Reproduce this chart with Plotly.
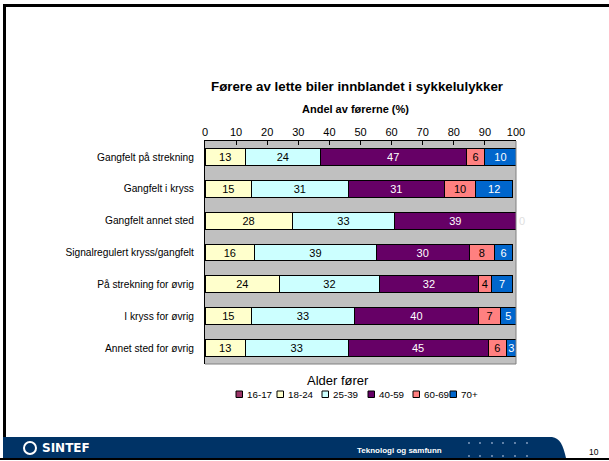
import plotly.graph_objects as go

# categories (top to bottom) and age groups
categories = ['Gangfelt på strekning', 'Gangfelt i kryss', 'Gangfelt annet sted',
              'Signalregulert kryss/gangfelt', 'På strekning for øvrig',
              'I kryss for øvrig', 'Annet sted for øvrig']
age_groups = ['16-17', '18-24', '25-39', '40-59', '60-69', '70+']

# share of drivers (%) per age group
v_16_17 = [0, 0, 0, 0, 0, 0, 0]
v_18_24 = [13, 15, 28, 16, 24, 15, 13]
v_25_39 = [24, 31, 33, 39, 32, 33, 33]
v_40_59 = [47, 31, 39, 30, 32, 40, 45]
v_60_69 = [6, 10, 0, 8, 4, 7, 6]
v_70p = [10, 12, 0, 6, 7, 5, 3]

x_ticks = [0, 10, 20, 30, 40, 50, 60, 70, 80, 90, 100]

series = [v_16_17, v_18_24, v_25_39, v_40_59, v_60_69, v_70p]
colors = ['#993366', '#FFFFCC', '#CCFFFF', '#660066', '#FF8080', '#0066CC']
txt_colors = ['white', 'black', 'black', 'white', 'black', 'white']

W, H = 609, 461
L, R, T, B = 205, 516, 141, 364  # plot area in pixels


def px(x):
    return (x - L) / (R - L)


def py(y):
    return (B - y) / (B - T)


fig = go.Figure()
for i, name in enumerate(age_groups):
    vals = series[i]
    last = i == len(age_groups) - 1
    texts = []
    pos = []
    for v in vals:
        if name == '16-17':
            texts.append('')
            pos.append('none')
        elif v == 0 and last:
            texts.append('0')
            pos.append('outside')
        elif v == 0:
            texts.append('')
            pos.append('none')
        else:
            texts.append(str(v))
            pos.append('inside')
    fig.add_trace(go.Bar(
        name=name, y=categories, x=vals, orientation='h',
        marker=dict(color=colors[i], line=dict(color='black', width=1)),
        text=texts, textposition=pos, insidetextanchor='middle',
        textangle=0, cliponaxis=False, showlegend=False,
        insidetextfont=dict(color=txt_colors[i], size=11),
        outsidetextfont=dict(color='#e0e0e0', size=11),
    ))

fig.update_layout(
    barmode='stack', bargap=0.47,
    width=W, height=H,
    margin=dict(l=L, r=W - R, t=T, b=H - B, pad=0),
    paper_bgcolor='white', plot_bgcolor='#C0C0C0',
    font=dict(family='Liberation Sans, Arial, sans-serif', size=10, color='black'),
    title=dict(text='<b>Førere av lette biler innblandet i sykkelulykker</b>',
               x=357 / W, xanchor='center', y=1 - 86 / H, yanchor='middle',
               font=dict(size=13.3)),
    uniformtext=dict(minsize=11, mode='show'),
)

fig.update_xaxes(side='top', range=[0, 100], tickvals=x_ticks, ticks='inside', ticklen=4,
                 tickcolor='black', showline=True, linecolor='black', linewidth=1,
                 showgrid=False, zeroline=False, tickfont=dict(size=11))
fig.update_yaxes(autorange='reversed', showline=True, linecolor='black', linewidth=1,
                 showgrid=False, ticks='', ticklabelstandoff=8, tickfont=dict(size=10.2))

shapes = []
annotations = []
# plot area border (right/bottom grey)
shapes.append(dict(type='line', xref='paper', yref='paper', x0=1, x1=1, y0=0, y1=1,
                   line=dict(color='#808080', width=1)))
shapes.append(dict(type='line', xref='paper', yref='paper', x0=0, x1=1, y0=0, y1=0,
                   line=dict(color='#808080', width=1)))
# slide frame
shapes.append(dict(type='line', xref='paper', yref='paper', x0=px(3), x1=px(609),
                   y0=py(5.5), y1=py(5.5), line=dict(color='black', width=3)))
shapes.append(dict(type='line', xref='paper', yref='paper', x0=px(4.5), x1=px(4.5),
                   y0=py(4), y1=py(438), line=dict(color='black', width=3)))
# footer band with rounded right end
x0, x1, y0, y1 = px(3), px(566), py(458), py(437)
shapes.append(dict(type='path', xref='paper', yref='paper',
                   path=f'M {x0},{y0} L {x1},{y0} C {px(563)},{py(445)} {px(560)},{py(438)} {px(552)},{y1} L {x0},{y1} Z',
                   fillcolor='#003366', line=dict(width=0)))
shapes.append(dict(type='line', xref='paper', yref='paper', x0=px(0), x1=px(609),
                   y0=py(459), y1=py(459), line=dict(color='black', width=2)))
# footer dots
for dx in [469, 480, 492, 503, 515, 527]:
    for dy in [443, 456]:
        shapes.append(dict(type='circle', xref='paper', yref='paper',
                           x0=px(dx - 0.9), x1=px(dx + 0.9), y0=py(dy + 0.9), y1=py(dy - 0.9),
                           fillcolor='#8FA8C8', line=dict(width=0)))
# SINTEF logo circle
shapes.append(dict(type='circle', xref='paper', yref='paper',
                   x0=px(24), x1=px(36), y0=py(454), y1=py(442),
                   fillcolor='#003366', line=dict(color='white', width=2)))

# manual legend (one row, small squares)
leg_x = [236, 277, 322, 368, 413, 450]
for i, name in enumerate(age_groups):
    lx = leg_x[i]
    shapes.append(dict(type='rect', xref='paper', yref='paper',
                       x0=px(lx), x1=px(lx + 6.5), y0=py(397.5), y1=py(391),
                       fillcolor=colors[i], line=dict(color='black', width=1)))
    annotations.append(dict(text=name, x=px(lx + 8.5), y=py(394.5), xanchor='left',
                            font=dict(size=9.8)))

annotations += [
    dict(text='<b>Andel av førerne (%)</b>', x=px(355), y=py(109), font=dict(size=11)),
    dict(text='Alder fører', x=px(338), y=py(380), font=dict(size=13)),
    dict(text='<b>SINTEF</b>', x=px(40), y=py(448), xanchor='left',
         font=dict(size=12, color='white', family='DejaVu Sans, sans-serif')),
    dict(text='<b>Teknologi og samfunn</b>', x=px(399), y=py(450),
         font=dict(size=8, color='white')),
    dict(text='10', x=px(594), y=py(452), font=dict(size=8.5, color='black')),
]
for a in annotations:
    a.update(xref='paper', yref='paper', showarrow=False)
    a.setdefault('xanchor', 'center')
    a['yanchor'] = 'middle'
fig.update_layout(shapes=shapes, annotations=annotations)

fig.write_html("out.html", config={'displayModeBar': False},
               post_script="document.body.style.margin='0';document.body.style.overflow='hidden';")
